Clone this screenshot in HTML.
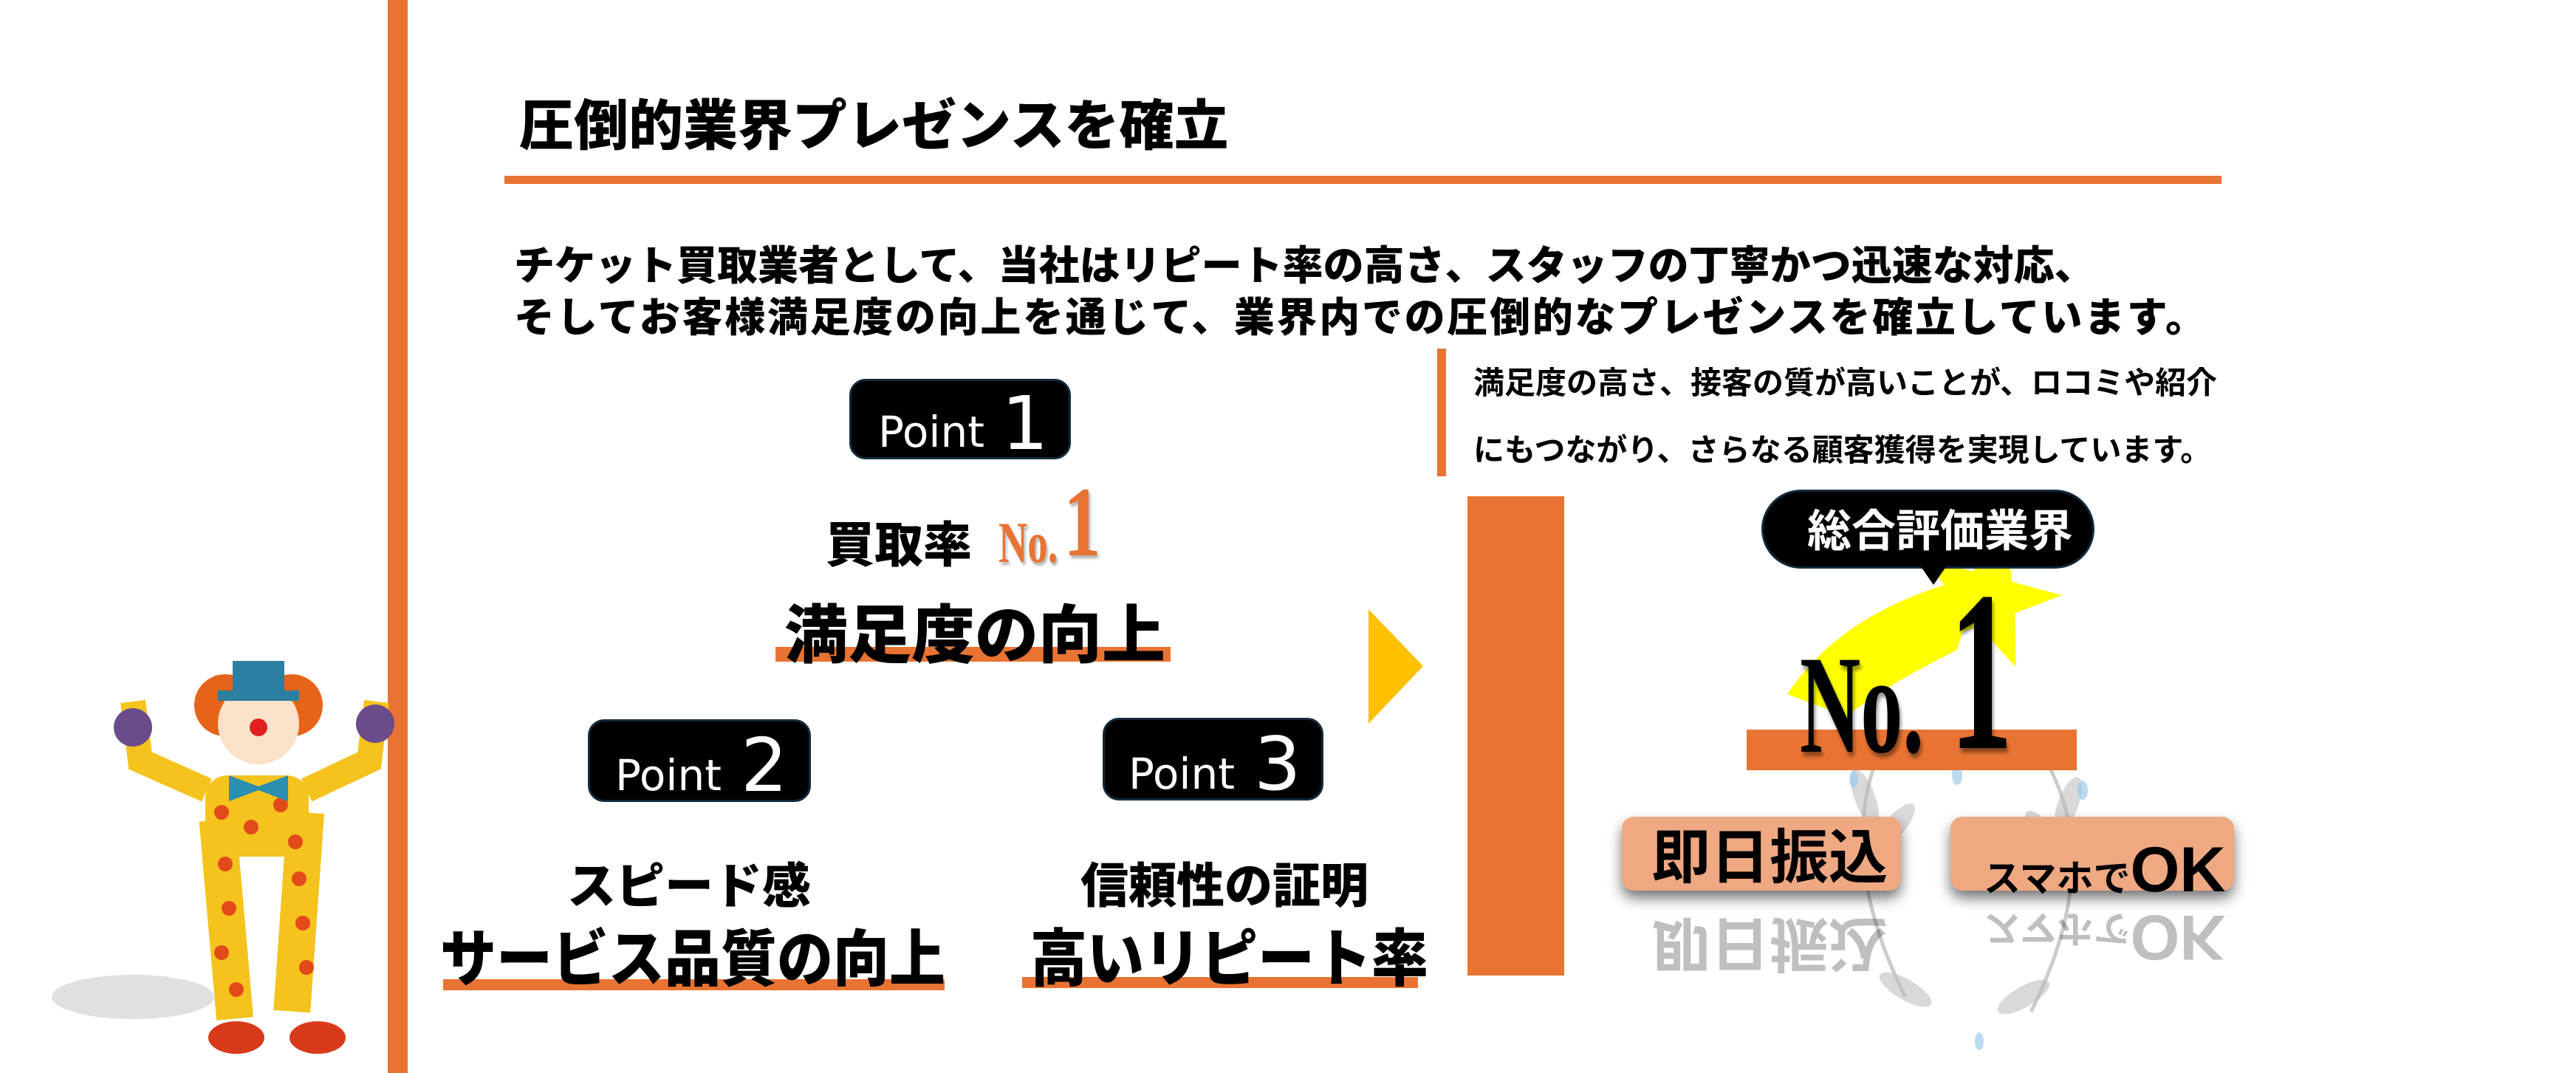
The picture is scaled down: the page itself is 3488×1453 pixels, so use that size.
<!DOCTYPE html>
<html><head><meta charset="utf-8"><style>
body{margin:0;width:3488px;height:1453px;background:#fff;position:relative;overflow:hidden;font-family:"Liberation Sans","Noto Sans CJK JP",sans-serif;}
.a{position:absolute;}
.jp{font-family:"Noto Sans CJK JP","Liberation Sans",sans-serif;font-weight:900;color:#000;white-space:nowrap;line-height:1;}
.or{background:#e87332;}
.pt{background:#000;border:3px solid #13293a;border-radius:22px;color:#fff;box-sizing:border-box;}
.pt span{position:absolute;font-family:"DejaVu Sans","Liberation Sans",sans-serif;line-height:1;}
.btn{background:#eea882;border-radius:16px;box-shadow:0 10px 18px rgba(0,0,0,.55);}
</style></head><body>
<div class="a or" style="left:525px;top:0;width:27px;height:1453px"></div>
<div class="a jp" style="left:703px;top:128px;font-size:74px">圧倒的業界プレゼンスを確立</div>
<div class="a or" style="left:683px;top:238px;width:2325px;height:11px"></div>
<div class="a jp" style="left:696px;top:320px;font-size:55px;line-height:70px">チケット買取業者として、当社はリピート率の高さ、スタッフの丁寧かつ迅速な対応、<br><span style="letter-spacing:2.7px">そしてお客様満足度の向上を通じて、業界内での圧倒的なプレゼンスを確立しています。</span></div>
<div class="a or" style="left:1946px;top:472px;width:12px;height:173px"></div>
<div class="a jp" style="left:1995px;top:470px;font-size:42px;line-height:91px;font-weight:700">満足度の高さ、接客の質が高いことが、ロコミや紹介<br>にもつながり、さらなる顧客獲得を実現しています。</div>

<div class="a pt" style="left:1150px;top:513px;width:300px;height:109px"><span style="left:36px;top:40px;font-size:58px">Point</span><span style="left:203px;top:8px;font-size:100px">1</span></div>
<div class="a jp" style="left:1118px;top:700px;font-size:66px">買取率</div>
<div class="a" style="left:1352px;top:690px;font-family:'Liberation Serif',serif;font-weight:bold;color:#e87332;font-size:78px;transform:scaleX(.7);transform-origin:left;text-shadow:3px 4px 4px rgba(0,0,0,.3)">No.</div>
<div class="a" style="left:1440px;top:640px;font-family:'Liberation Serif',serif;font-weight:bold;color:#e87332;font-size:135px;transform:scaleX(.75);transform-origin:left;line-height:1;text-shadow:3px 4px 4px rgba(0,0,0,.3)">1</div>
<div class="a or" style="left:1050px;top:876px;width:535px;height:20px"></div>
<div class="a jp" style="left:1062px;top:810px;font-size:86px">満足度の向上</div>

<div class="a pt" style="left:796px;top:974px;width:302px;height:112px"><span style="left:34px;top:44px;font-size:58px">Point</span><span style="left:204px;top:10px;font-size:100px">2</span></div>
<div class="a pt" style="left:1493px;top:972px;width:299px;height:112px"><span style="left:32px;top:44px;font-size:58px">Point</span><span style="left:202px;top:10px;font-size:100px">3</span></div>
<div class="a jp" style="left:768px;top:1162px;font-size:66px">スピード感</div>
<div class="a jp" style="left:1463px;top:1162px;font-size:65px">信頼性の証明</div>
<div class="a or" style="left:600px;top:1326px;width:679px;height:15px"></div>
<div class="a or" style="left:1384px;top:1323px;width:536px;height:15px"></div>
<div class="a jp" style="left:596px;top:1250px;font-size:76px;transform:scaleY(1.1);transform-origin:top">サービス品質の向上</div>
<div class="a jp" style="left:1395px;top:1250px;font-size:77px;transform:scaleY(1.1);transform-origin:top">高いリピート率</div>

<svg class="a" style="left:1853px;top:825px" width="74" height="155"><polygon points="0,0 74,77 0,155" fill="#ffc000"/></svg>
<div class="a or" style="left:1987px;top:672px;width:131px;height:649px"></div>

<svg class="a" style="left:2350px;top:650px" width="700" height="780">
 <g fill="none" stroke="#aaa" stroke-width="5" opacity=".6">
  <path d="M190 380 Q140 520 230 700"/><path d="M420 380 Q500 520 400 720"/>
 </g>
 <g fill="#bbb" opacity=".55">
  <ellipse cx="175" cy="430" rx="14" ry="40" transform="rotate(-20 175 430)"/><ellipse cx="215" cy="470" rx="14" ry="40" transform="rotate(40 215 470)"/>
  <ellipse cx="450" cy="440" rx="14" ry="40" transform="rotate(20 450 440)"/><ellipse cx="420" cy="480" rx="14" ry="40" transform="rotate(-40 420 480)"/>
  <ellipse cx="230" cy="690" rx="14" ry="40" transform="rotate(-60 230 690)"/><ellipse cx="390" cy="700" rx="14" ry="40" transform="rotate(60 390 700)"/>
 </g>
 <g fill="#9ccbe8" opacity=".7"><ellipse cx="160" cy="405" rx="6" ry="12"/><ellipse cx="300" cy="400" rx="7" ry="13"/><ellipse cx="470" cy="420" rx="7" ry="13"/><ellipse cx="330" cy="760" rx="6" ry="12"/></g>
 <path d="M70 290 Q150 170 330 130 L300 230 Q200 280 150 320 Z" fill="#ffff00"/>
 <polygon points="342,60 370,130 440,130 385,170 405,240 342,200 280,240 300,170 245,130 315,130" fill="#ffff00" transform="rotate(15 342 150)"/>
</svg>
<div class="a" style="left:2385px;top:663px;width:451px;height:107px;background:#000;border:3px solid #13293a;border-radius:54px;box-sizing:border-box"></div>
<svg class="a" style="left:2600px;top:766px" width="36" height="26"><polygon points="0,0 36,0 18,26" fill="#000"/></svg>
<div class="a jp" style="left:2447px;top:685px;font-size:60px;color:#fff;font-weight:700">総合評価業界</div>
<div class="a or" style="left:2365px;top:988px;width:447px;height:55px"></div>
<div class="a" style="left:2437px;top:860px;font-family:'Liberation Serif',serif;font-weight:bold;font-size:190px;line-height:1;transform:scaleX(.6);transform-origin:left;text-shadow:4px 6px 6px rgba(0,0,0,.4)">No.</div>
<div class="a" style="left:2640px;top:755px;font-family:'Liberation Serif',serif;font-weight:bold;font-size:310px;line-height:1;transform:scaleX(.55);transform-origin:left;text-shadow:4px 6px 6px rgba(0,0,0,.4)">1</div>

<div class="a btn" style="left:2196px;top:1106px;width:378px;height:100px"></div>
<div class="a btn" style="left:2641px;top:1106px;width:384px;height:100px"></div>
<div class="a jp" style="left:2236px;top:1115px;font-size:80px;font-weight:700">即日振込</div>
<div class="a jp" style="left:2686px;top:1135px;font-size:50px;font-weight:700">スマホで<span style="font-family:'Liberation Sans',sans-serif;font-size:86px">OK</span></div>
<div class="a" style="left:2196px;top:1222px;width:829px;height:110px;opacity:.25;transform:scaleY(-1)">
 <div class="a jp" style="left:40px;top:8px;font-size:80px;font-weight:700">即日振込</div>
 <div class="a jp" style="left:490px;top:20px;font-size:50px;font-weight:700">スマホで<span style="font-family:'Liberation Sans',sans-serif;font-size:86px">OK</span></div>
</div>

<svg class="a" style="left:40px;top:870px" width="560" height="580">
 <ellipse cx="140" cy="480" rx="110" ry="30" fill="#ccc" opacity=".6"/>
 <rect x="340" y="230" width="50" height="270" fill="#f5c31e" transform="rotate(4 365 360)"/>
 <rect x="240" y="240" width="50" height="270" fill="#f5c31e" transform="rotate(-5 265 360)"/>
 <rect x="238" y="180" width="140" height="110" rx="30" fill="#f5c31e"/>
 <g fill="#e24a1c"><circle cx="260" cy="230" r="10"/><circle cx="300" cy="250" r="10"/><circle cx="340" cy="220" r="10"/><circle cx="360" cy="270" r="10"/><circle cx="265" cy="300" r="10"/><circle cx="270" cy="360" r="10"/><circle cx="260" cy="420" r="10"/><circle cx="365" cy="320" r="10"/><circle cx="370" cy="380" r="10"/><circle cx="375" cy="440" r="10"/><circle cx="280" cy="470" r="10"/></g>
 <path d="M240 200 L150 160 L140 80" stroke="#f5c31e" stroke-width="34" fill="none"/>
 <path d="M375 200 L460 160 L470 80" stroke="#f5c31e" stroke-width="34" fill="none"/>
 <circle cx="140" cy="115" r="26" fill="#6a4c8a"/><circle cx="468" cy="110" r="26" fill="#6a4c8a"/>
 <circle cx="265" cy="85" r="42" fill="#e8631a"/><circle cx="355" cy="85" r="42" fill="#e8631a"/>
 <circle cx="310" cy="110" r="55" fill="#f9e2c8"/>
 <circle cx="310" cy="115" r="12" fill="#e02020"/>
 <rect x="275" y="25" width="70" height="50" fill="#2c7fa0"/><rect x="255" y="65" width="110" height="14" fill="#2c7fa0"/>
 <polygon points="270,180 310,195 350,180 350,215 310,200 270,215" fill="#2a8fb0"/>
 <ellipse cx="280" cy="535" rx="38" ry="22" fill="#d73a1a"/><ellipse cx="390" cy="535" rx="38" ry="22" fill="#d73a1a"/>
</svg>
</body></html>
